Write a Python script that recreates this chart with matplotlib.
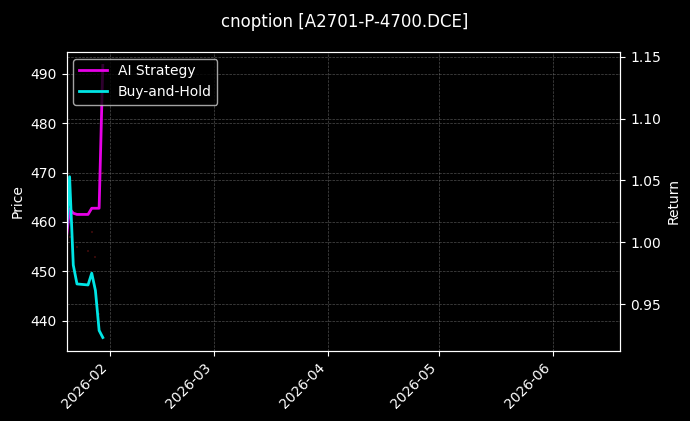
import numpy as np
import pandas as pd
import matplotlib
matplotlib.use("Agg")
import matplotlib.pyplot as plt
import matplotlib.dates as mdates

plt.style.use("dark_background")

# торговые дни и значения
dates = pd.to_datetime(["2026-01-20", "2026-01-21", "2026-01-22", "2026-01-23",
                        "2026-01-26", "2026-01-27", "2026-01-28", "2026-01-29",
                        "2026-01-30"])
close = [455.0, 457.0, 452.4, 455.0, 454.1, 458.0, 452.9, 441.5, 470.0]
strategy = [1.000, 1.027, 1.0235, 1.0225, 1.0225, 1.0275, 1.0275, 1.0275, 1.143]
buy_hold = [1.000, 1.053, 0.9816, 0.9663, 0.9655, 0.975, 0.961, 0.9287, 0.923]

x_start = pd.Timestamp("2026-01-20 04:00")
x_end = pd.Timestamp("2026-06-19 05:00")

fig, ax1 = plt.subplots(figsize=(6.9, 4.21), dpi=100)
fig.subplots_adjust(left=0.0964, right=0.899, top=0.877, bottom=0.166)

# цена почти не видна: тусклые точки
ax1.scatter(dates, close, s=2, color="#5a1010", alpha=0.6, marker="s", linewidths=0)
ax1.set_ylabel("Price")
ax1.set_ylim(433.9, 494.4)
ax1.grid(True, linestyle="--", linewidth=0.5, alpha=0.3)

ax2 = ax1.twinx()
ax2.plot(dates, strategy, color="#e600e6", linewidth=2, label="AI Strategy")
ax2.plot(dates, buy_hold, color="#00e5e5", linewidth=2, label="Buy-and-Hold")
ax2.set_ylabel("Return")
ax2.grid(True, linestyle="--", linewidth=0.5, alpha=0.3)

ax1.set_xlim(x_start, x_end)
ax1.xaxis.set_major_locator(mdates.MonthLocator())
ax1.xaxis.set_major_formatter(mdates.DateFormatter("%Y-%m"))
plt.setp(ax1.get_xticklabels(), rotation=45, ha="right")

ax2.legend(loc="upper left")
fig.suptitle("cnoption [A2701-P-4700.DCE]", fontsize=12, y=0.97)

plt.savefig("out.png")
